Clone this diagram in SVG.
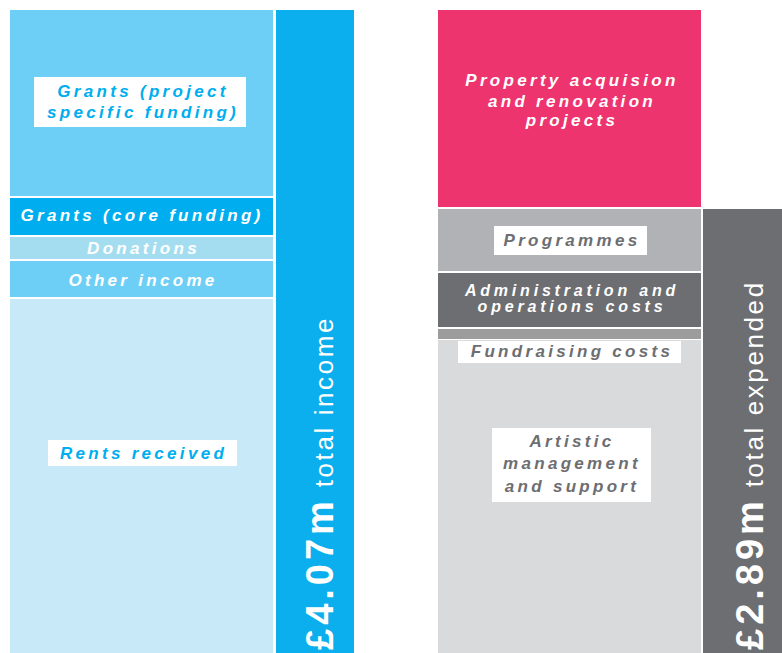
<svg xmlns="http://www.w3.org/2000/svg" width="782" height="653" viewBox="0 0 782 653">
<style>
.lbl{font-family:"Liberation Sans",Arial,sans-serif;font-weight:bold;font-style:italic;font-size:17px;letter-spacing:3.3px;text-anchor:middle}
.tight{font-size:16px;letter-spacing:3.8px}
.w{fill:#ffffff}
.b{fill:#00AEEF}
.g{fill:#6D6E71}
.box{fill:#ffffff}
.tot{font-family:"Liberation Sans",Arial,sans-serif;fill:#ffffff}
.big{font-weight:bold;font-size:38px;letter-spacing:4px}
.sm{font-weight:normal;font-size:26px;letter-spacing:2.6px}
</style>
<rect width="782" height="653" fill="#ffffff"/>
<g id="income">
<g id="grants-project">
<rect x="10" y="10" width="263" height="186" fill="#6DCFF6"/>
<rect class="box" x="34" y="77" width="212" height="50"/>
<text class="lbl b" x="143" y="97">Grants (project</text>
<text class="lbl b" x="143" y="117.5">specific funding)</text>
</g>
<g id="grants-core">
<rect x="10" y="198" width="263" height="37" fill="#00AEEF"/>
<text class="lbl w" x="142" y="221">Grants (core funding)</text>
</g>
<g id="donations">
<rect x="10" y="237" width="263" height="22" fill="#A5DDF0"/>
<text class="lbl w" x="143.5" y="253.5">Donations</text>
</g>
<g id="other-income">
<rect x="10" y="261" width="263" height="36" fill="#6DCFF6"/>
<text class="lbl w" x="143" y="286">Other income</text>
</g>
<g id="rents">
<rect x="10" y="299" width="263" height="354" fill="#C7E9F8"/>
<rect class="box" x="48" y="440" width="189" height="26"/>
<text class="lbl b" x="143.5" y="458.5">Rents received</text>
</g>
<g id="total-income">
<rect x="276" y="10" width="78" height="643" fill="#0BAFEE"/>
<text class="tot" transform="translate(333,650) rotate(-90)"><tspan class="big">£4.07m</tspan><tspan class="sm"> total income</tspan></text>
</g>
</g>
<g id="expenditure">
<g id="property">
<rect x="438" y="10" width="263" height="197" fill="#EE346F"/>
<text class="lbl w" x="572" y="86">Property acquision</text>
<text class="lbl w" x="572" y="106.5">and renovation</text>
<text class="lbl w" x="572" y="126">projects</text>
</g>
<g id="programmes">
<rect x="438" y="209" width="263" height="62" fill="#B1B2B5"/>
<rect class="box" x="494" y="226" width="153" height="29"/>
<text class="lbl g" x="572" y="246">Programmes</text>
</g>
<g id="admin">
<rect x="438" y="273" width="263" height="54" fill="#6D6E72"/>
<text class="lbl w tight" x="572" y="296">Administration and</text>
<text class="lbl w tight" x="572" y="311.5">operations costs</text>
</g>
<g id="fundraising">
<rect x="438" y="329" width="263" height="10" fill="#9C9C9D"/>
</g>
<g id="artistic">
<rect x="438" y="340" width="263" height="313" fill="#D9DADB"/>
<rect class="box" x="458" y="341" width="223" height="22"/>
<text class="lbl g" x="572" y="357">Fundraising costs</text>
<rect class="box" x="492" y="428" width="159" height="74"/>
<text class="lbl g" x="572" y="446.5">Artistic</text>
<text class="lbl g" x="572" y="469">management</text>
<text class="lbl g" x="572" y="491.5">and support</text>
</g>
<g id="total-expended">
<rect x="703" y="209" width="79" height="444" fill="#6D6E72"/>
<text class="tot" transform="translate(763,650) rotate(-90)"><tspan class="big">£2.89m</tspan><tspan class="sm"> total expended</tspan></text>
</g>
</g>
</svg>
